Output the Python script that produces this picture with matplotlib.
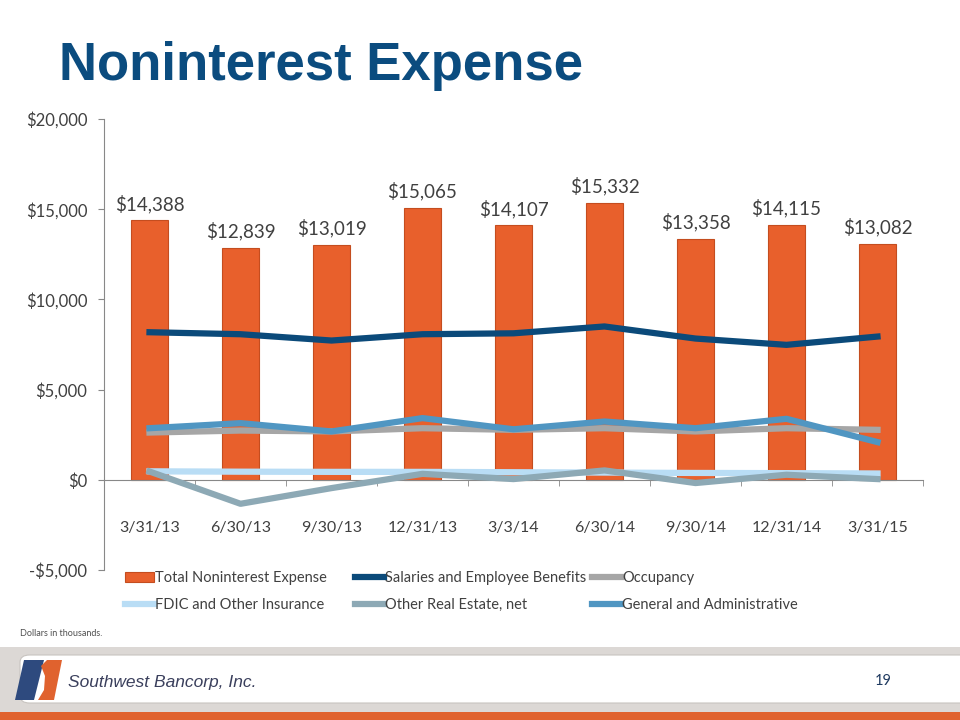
import matplotlib
matplotlib.use('Agg')
import matplotlib.pyplot as plt
from matplotlib.patches import Rectangle, FancyBboxPatch, Polygon
import numpy as np

plt.rcParams['font.family'] = ['Lato', 'DejaVu Sans']

# data (thousands of dollars)
quarters = ['3/31/13', '6/30/13', '9/30/13', '12/31/13', '3/3/14',
            '6/30/14', '9/30/14', '12/31/14', '3/31/15']
total = [14388, 12839, 13019, 15065, 14107, 15332, 13358, 14115, 13082]
salaries = [8180, 8070, 7720, 8070, 8120, 8500, 7830, 7480, 7940]
occupancy = [2620, 2730, 2680, 2860, 2770, 2860, 2680, 2860, 2770]
fdic = [470, 450, 440, 440, 420, 400, 380, 370, 350]
other_re = [460, -1330, -460, 330, 40, 520, -180, 280, 40]
g_and_a = [2860, 3140, 2680, 3420, 2800, 3230, 2860, 3380, 2090]

yticks = [-5000, 0, 5000, 10000, 15000, 20000]

fig = plt.figure(figsize=(9.6, 7.2), dpi=100)
ax = fig.add_axes([104/960, 1-570/720, 819/960, 451/720])

x = np.arange(len(quarters))
h_total = ax.bar(x, total, width=0.4, color='#E8602C', edgecolor='#C44D1F', linewidth=0.8,
                 label='Total Noninterest Expense', zorder=2)
for xi, v in zip(x, total):
    ax.annotate(f'${v:,}', (xi, v), xytext=(0, 12), textcoords='offset points',
                ha='center', va='center', fontsize=13.5, color='#404040')

lw = 4.5
h_sal, = ax.plot(x, salaries, color='#0B4A7A', lw=lw, label='Salaries and Employee Benefits', zorder=3)
h_occ, = ax.plot(x, occupancy, color='#A6A6A6', lw=lw, label='Occupancy', zorder=3)
h_fdic, = ax.plot(x, fdic, color='#B9DDF5', lw=lw, label='FDIC and Other Insurance', zorder=3)
h_ore, = ax.plot(x, other_re, color='#8DA9B5', lw=lw, label='Other Real Estate, net', zorder=3)
h_ga, = ax.plot(x, g_and_a, color='#5096C2', lw=lw, label='General and Administrative', zorder=3)

ax.set_xlim(-0.5, len(quarters) - 0.5)
ax.set_ylim(-5000, 20000)
ax.set_yticks(yticks)
ax.set_yticklabels([f'-${-t:,}' if t < 0 else f'${t:,}' for t in yticks])
ax.tick_params(axis='y', direction='out', length=4, color='#888888',
               labelsize=12, labelcolor='#404040', pad=8)

# category axis sits on the zero line
ax.spines['bottom'].set_position(('data', 0))
ax.spines['bottom'].set_color('#888888')
ax.spines['left'].set_color('#888888')
ax.spines['top'].set_visible(False)
ax.spines['right'].set_visible(False)
ax.set_xticks(x)
ax.set_xticklabels(quarters)
ax.set_xticks(np.arange(-0.5, len(quarters)), minor=True)
ax.tick_params(axis='x', which='major', length=0, labelsize=11.5,
               labelcolor='#404040', pad=30)
ax.tick_params(axis='x', which='minor', direction='out', length=4, color='#888888')

# legend: one small legend per column, like the Excel layout
columns = [(125, [h_total, h_fdic]), (355, [h_sal, h_ore]), (592, [h_occ, h_ga])]
for i, (xpix, hs) in enumerate(columns):
    leg = ax.legend(handles=hs, labels=[h.get_label() for h in hs],
                    loc='upper left', bbox_to_anchor=(xpix/960, 1-571/720),
                    bbox_transform=fig.transFigure, frameon=False,
                    fontsize=10.5, handlelength=2.0, handletextpad=0.05,
                    labelspacing=0.9, borderaxespad=0, borderpad=0)
    for t in leg.get_texts():
        t.set_color('#404040')
    if i < len(columns) - 1:
        ax.add_artist(leg)

# title and notes
fig.text(59/960, 1-80/720, 'Noninterest Expense', fontsize=38, fontweight='bold',
         color='#0B4C7F', family='Liberation Sans', va='baseline')
fig.text(20/960, 1-633/720, 'Dollars in thousands.', fontsize=6.5, color='#505050',
         va='center')

# footer
fig.patches.append(Rectangle((0, 8/720), 1, 65/720, transform=fig.transFigure,
                             facecolor='#DCD8D5', edgecolor='none', zorder=0))
fig.patches.append(Rectangle((0, 0), 1, 8/720, transform=fig.transFigure,
                             facecolor='#E0622E', edgecolor='none', zorder=0))
fig.patches.append(FancyBboxPatch((20/960, 17/720), 950/960, 48/720,
                                  boxstyle='round,pad=0,rounding_size=0.01',
                                  transform=fig.transFigure, facecolor='white',
                                  edgecolor='#C8C4C0', linewidth=0.8, zorder=1))
fig.patches.append(Polygon([(15/960, 1-700/720), (24/960, 1-660/720), (44/960, 1-660/720),
                            (34/960, 1-700/720)], closed=True, transform=fig.transFigure,
                           facecolor='#2E4A7E', edgecolor='none', zorder=2))
fig.patches.append(Polygon([(47/960, 1-660/720), (62/960, 1-660/720), (54/960, 1-700/720),
                            (38/960, 1-700/720), (44/960, 1-690/720), (45/960, 1-676/720),
                            (41/960, 1-666/720)], closed=True, transform=fig.transFigure,
                           facecolor='#E0622E', edgecolor='none', zorder=2))
fig.text(68/960, 1-682/720, 'Southwest Bancorp, Inc.', fontsize=12.5, style='italic',
         color='#3A3F5C', family='Liberation Sans', va='center')
fig.text(883/960, 1-681/720, '19', fontsize=10.5, color='#1F3A60', ha='center', va='center')

fig.savefig('out.png', dpi=100)
